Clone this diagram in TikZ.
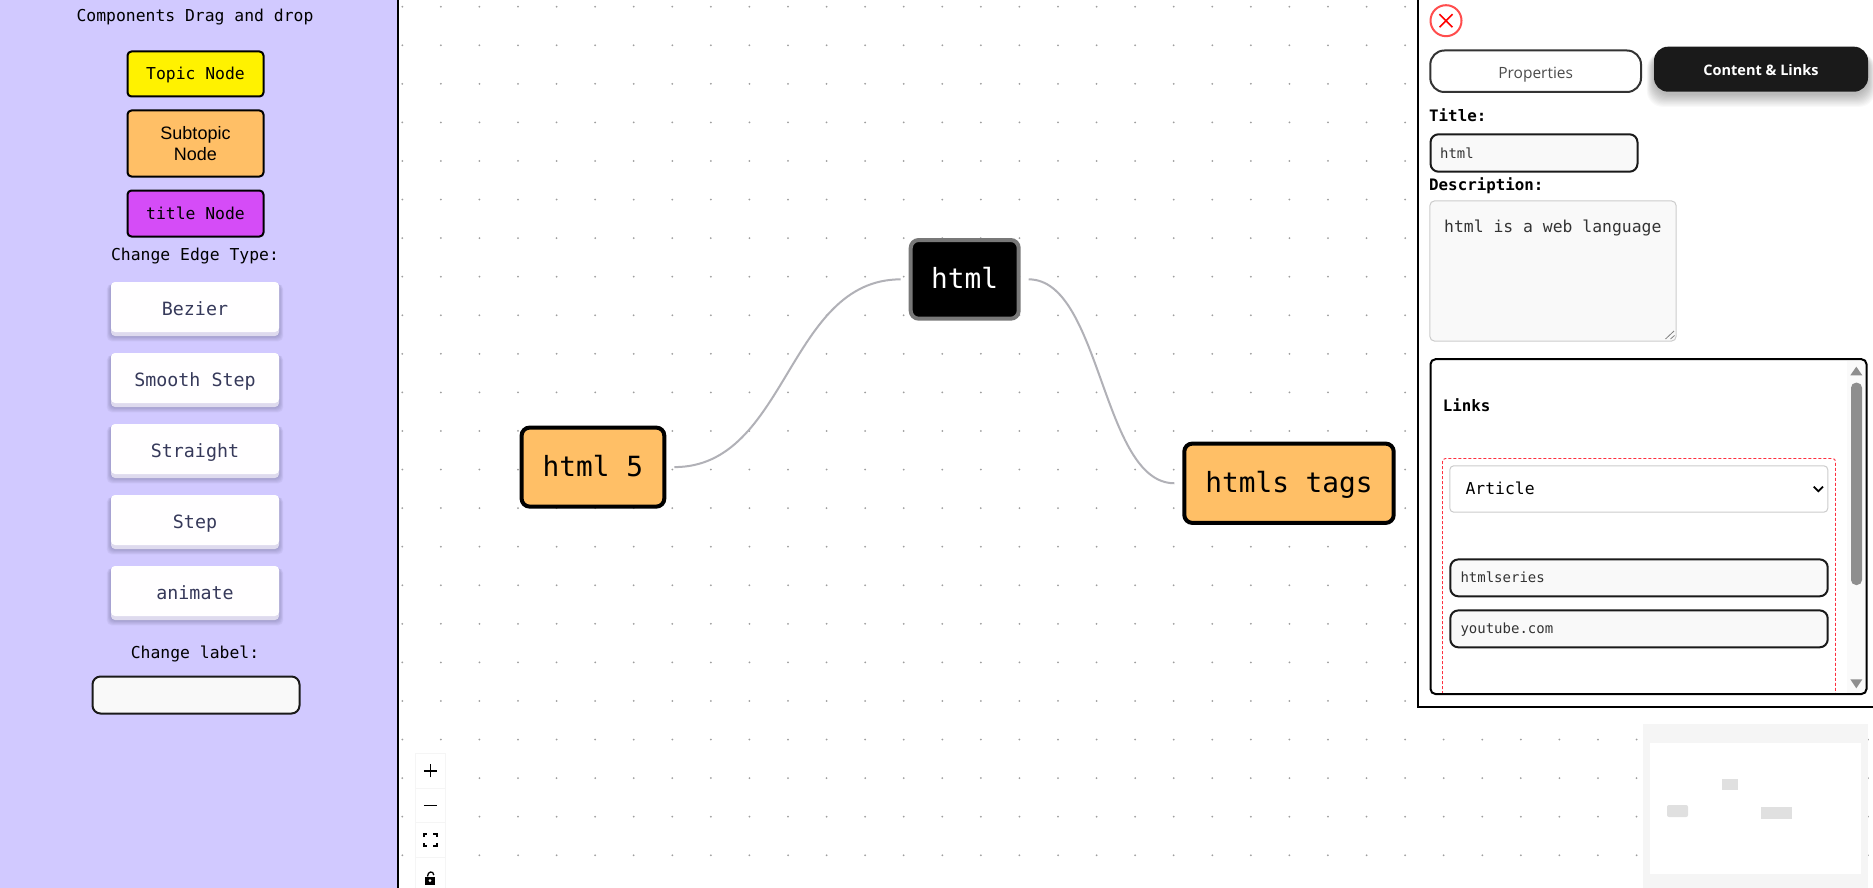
\documentclass[tikz,border=0pt]{standalone}
\usepackage{fontspec}
\usepackage{tikz}
\setmainfont{Liberation Sans}
\newfontfamily\uimono{DejaVu Sans Mono}
\newfontfamily\uisans{Open Sans}
\definecolor{panelbg}{HTML}{D1C9FF}
\definecolor{subtopicbg}{HTML}{FFBF66}
\definecolor{titlebg}{HTML}{D54CF7}
\definecolor{inkdark}{HTML}{1A1A1A}
\definecolor{inputbg}{HTML}{F9F9F9}
\definecolor{btnink}{HTML}{36395A}
\definecolor{btnband}{HTML}{DEDAEE}
\definecolor{edgegrey}{HTML}{B1B1B7}
\definecolor{closered}{HTML}{FF4D4D}
\definecolor{dashred}{HTML}{FF2F3F}
\definecolor{scrollgrey}{HTML}{8E8E8E}
\tikzset{
  mono/.code={\pgfmathsetmacro\monoht{#1*0.73}\tikzset{font=\uimono\fontsize{#1}{#1}\selectfont,inner sep=0pt,text height=\monoht pt,text depth=0pt}},
  boldmono/.style={mono=#1,font=\uimono\bfseries\fontsize{#1}{#1}\selectfont,anchor=west},
  leftmono/.style={mono=#1,anchor=west,text=black!80},
  paletteitem/.style={draw=black,line width=2pt,rounded corners=4pt,inner sep=0pt},
  flownode/.style={draw=black,line width=4pt,rounded corners=8pt,outer sep=10pt,mono=27.8,text depth=2.4pt},
  edgeline/.style={edgegrey,line width=2pt},
  inputbox/.style={draw=inkdark,fill=inputbg,line width=2pt,rounded corners=8pt,inner sep=0pt},
  softbox/.style={draw=black!20,fill=inputbg,line width=1pt,rounded corners=5pt,inner sep=0pt},
  tabbox/.style={rounded corners=14pt,inner sep=0pt,text depth=0pt},
  ctrlbox/.style={fill=white,inner sep=0pt},
  ministub/.style={fill=black!12,inner sep=0pt},
}
% name, style, x1, y1, x2, y2, text
\newcommand{\createrect}[7]{\node[#2,minimum width={((#5)-(#3))*1pt},minimum height={((#6)-(#4))*1pt}] (#1) at ({((#3)+(#5))/2},{((#4)+(#6))/2}) {#7};}
% name, top, text
\newcommand{\createbutton}[3]{
  \foreach \s in {1,...,6} {\fill[btnink,opacity=0.05,rounded corners=5pt] ({111-\s*0.7},{#2+2}) rectangle ({279+\s*0.7},{#2+54+\s*0.9});}
  \createrect{#1band}{fill=btnband,rounded corners=4pt}{111}{#2}{279}{#2+54}{}
  \createrect{#1}{fill=white!99!panelbg,rounded corners=4pt,text=btnink,mono=18.3,text height=17.4pt}{111}{#2}{279}{#2+50}{#3}
}

\begin{document}
\begin{tikzpicture}[x=1pt,y=-1pt]
    \useasboundingbox (0,0) rectangle (1873,888);
    \clip (0,0) rectangle (1873,888);
    \fill[white] (0,0) rectangle (1873,888);
    %dot grid
    \foreach \col in {0,1,...,38} {
    \foreach \row in {0,1,...,22} {
    \fill[black!38] ({402.3+\col*38.57},{6.7+\row*38.57}) circle (1);}}

    %side panel
    \createrect{sidepanel}{fill=panelbg,inner sep=0pt}{0}{0}{397}{888}{}
    \draw[line width=2.2pt] (397.8,0) -- (397.8,888);
    \node[mono=16.4] (dragtitle) at (195,15.5) {Components Drag and drop};
    \createrect{topicitem}{paletteitem,fill=yellow,mono=16.4}{127.5}{51.5}{263.5}{96.5}{Topic Node}
    \createrect{subtopicitem}{paletteitem,fill=subtopicbg,align=center,font=\fontsize{18}{21}\selectfont}{127.5}{110.5}{263.5}{176.5}{Subtopic\\Node}
    \createrect{titleitem}{paletteitem,fill=titlebg,mono=16.4}{127.5}{190.5}{263.5}{236.5}{title Node}
    \node[mono=16.4] (edgetitle) at (195,254.5) {Change Edge Type:};
    \createbutton{bezierbtn}{282}{Bezier}
    \createbutton{smoothbtn}{353}{Smooth Step}
    \createbutton{straightbtn}{424}{Straight}
    \createbutton{stepbtn}{495}{Step}
    \createbutton{animatebtn}{566}{animate}
    \node[mono=16.4] (labeltitle) at (195,653) {Change label:};
    \createrect{labelinput}{inputbox}{92.5}{676.5}{299.5}{713.5}{}

    %flow nodes
    \createrect{html}{flownode,fill=black,draw=black!53,text=white}{910.7}{240}{1018.7}{318.7}{html}
    \createrect{htmlfive}{flownode,fill=subtopicbg}{521.6}{427.6}{664.3}{506.6}{html 5}
    \createrect{htmltags}{flownode,fill=subtopicbg}{1184.3}{443.6}{1393.7}{522.9}{htmls tags}
    \draw[edgeline] (htmlfive.east) .. controls +(113.5,0) and +(-113.5,0) .. (html.west);
    \draw[edgeline] (html.east) .. controls +(72.5,0) and +(-72.5,0) .. (htmltags.west);

    %zoom controls
    \fill[black!4] (414.5,752.5) rectangle (446.2,888);
    \createrect{zoomin}{ctrlbox}{415.7}{753.7}{445}{788}{}
    \createrect{zoomout}{ctrlbox}{415.7}{789}{445}{822}{}
    \createrect{zoomfit}{ctrlbox}{415.7}{823}{445}{857}{}
    \createrect{zoomlock}{ctrlbox}{415.7}{858}{445}{890}{}
    \draw[line width=1.6pt] ([xshift=-6.5pt]zoomin.center) -- ([xshift=6.5pt]zoomin.center);
    \draw[line width=1.6pt] ([yshift=-6.5pt]zoomin.center) -- ([yshift=6.5pt]zoomin.center);
    \draw[line width=1.6pt] ([xshift=-6.5pt]zoomout.center) -- ([xshift=6.5pt]zoomout.center);
    \begin{scope}[shift={(zoomfit.center)},line width=1.4pt]
        \draw (-6.5,-3) -- (-6.5,-6) -- (-3,-6);
        \draw (3,-6) -- (6.5,-6) -- (6.5,-3);
        \draw (-6.5,3) -- (-6.5,6) -- (-3,6);
        \draw (3,6) -- (6.5,6) -- (6.5,3);
    \end{scope}
    \fill (424.7,876.5) rectangle (435.3,885);
    \draw[line width=1.3pt] (427.5,876.5) .. controls (427.5,871) and (433.5,870.5) .. (433.8,875);
    \fill[white] (430,880.7) circle (1.5);

    %minimap
    \createrect{minimap}{fill=black!4,inner sep=0pt}{1643}{724}{1868}{887.7}{}
    \createrect{minicanvas}{fill=white,inner sep=0pt}{1650}{742.7}{1861}{873.7}{}
    \createrect{minihtml}{ministub}{1722}{779}{1738}{790}{}
    \createrect{minifive}{ministub,rounded corners=2pt}{1667}{805}{1688}{817}{}
    \createrect{minitags}{ministub}{1761}{807}{1792}{819}{}

    %right panel
    \createrect{rightpanel}{fill=white,draw=black,line width=1.7pt,inner sep=0pt}{1418}{-5}{1880}{707}{}
    \node[circle,draw=closered,line width=2pt,minimum size=31pt,inner sep=0pt] (closebtn) at (1446,20.7) {};
    \draw[red,line width=1.6pt] ([shift={(-6.5,-6.5)}]closebtn.center) -- ([shift={(6.5,6.5)}]closebtn.center);
    \draw[red,line width=1.6pt] ([shift={(-6.5,6.5)}]closebtn.center) -- ([shift={(6.5,-6.5)}]closebtn.center);
    \createrect{propstab}{tabbox,draw=black!80,line width=2pt,text=black!70,text height=14pt,font=\uisans\fontsize{15.5}{18}\selectfont}{1430.3}{50.5}{1641}{92}{Properties}
    \foreach \s in {1,...,12} {\fill[black,opacity=0.025,rounded corners=16pt] ({1654-\s*0.6},{46.7+6}) rectangle ({1868+\s*0.6},{91.7+2+\s*1.1});}
    \createrect{linkstab}{tabbox,fill=inkdark,text=white,text height=12.4pt,font=\uisans\bfseries\fontsize{14.5}{17}\selectfont}{1654}{46.7}{1868}{91.7}{Content \& Links}
    \node[boldmono=15.8] (titlelabel) at (1429,116) {Title:};
    \createrect{titleinput}{inputbox}{1430.5}{134.3}{1637.5}{171.7}{}
    \node[leftmono=13.9] (titletext) at (1440,153) {html};
    \node[boldmono=15.8] (desclabel) at (1429,184.3) {Description:};
    \createrect{descinput}{softbox}{1429.8}{200.8}{1676.2}{341.2}{}
    \node[leftmono=16.4] (desctext) at (1444,226.7) {html is a web language};
    \draw[black!50,line width=0.8pt] (1665.5,339) -- (1674,331);
    \draw[black!50,line width=0.8pt] (1670.5,339) -- (1674.5,335.5);

    %links box
    \createrect{linksbox}{fill=white,inner sep=0pt,rounded corners=5pt}{1430.5}{359.2}{1866.5}{694}{}
    \fill[black!2] (1846.7,361) rectangle (1865.5,693);
    \draw[fill=scrollgrey,draw=none] (1856.3,366.7) -- (1862.3,375.3) -- (1850.3,375.3) -- cycle;
    \draw[fill=scrollgrey,draw=none] (1856.3,688.3) -- (1862.3,679.3) -- (1850.3,679.3) -- cycle;
    \createrect{scrollthumb}{fill=scrollgrey,rounded corners=5pt,inner sep=0pt}{1851}{382.7}{1862}{585}{}
    \node[boldmono=15.8] (linkslabel) at (1442.7,406.2) {Links};
    \draw[dashred,line width=0.9pt,dash pattern=on 3pt off 2pt,rounded corners=3pt] (1442.5,694) -- (1442.5,458.5) -- (1835.5,458.5) -- (1835.5,694);
    \createrect{kindselect}{softbox,fill=white,rounded corners=4pt}{1449.8}{465.8}{1827.8}{512.2}{}
    \node[leftmono=16.4,text=black] (kindtext) at (1465.3,488.8) {Article};
    \draw[line width=1.8pt] ([shift={(-4.6,-2.4)}]kindselect.center -| 1818.3,0) -- ++(4.6,4.6) -- ++(4.6,-4.6);
    \createrect{nameinput}{inputbox}{1450.3}{559.4}{1827.7}{596.3}{}
    \node[leftmono=14] (nametext) at (1460.3,577.8) {htmlseries};
    \createrect{urlinput}{inputbox}{1450.3}{610.4}{1827.7}{647.3}{}
    \node[leftmono=14] (urltext) at (1460.3,628.8) {youtube.com};
    \draw[black,line width=2pt,rounded corners=5pt] (1430.5,359.2) rectangle (1866.5,694);
\end{tikzpicture}
\end{document}
